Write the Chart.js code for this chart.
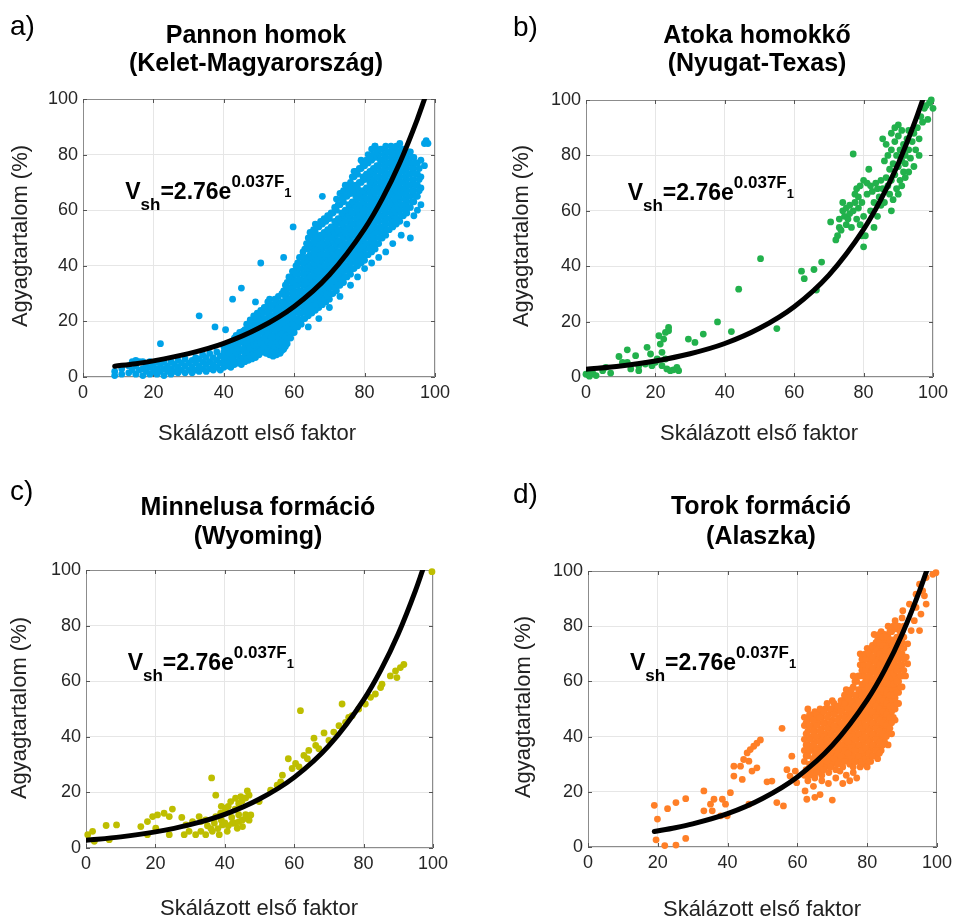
<!DOCTYPE html>
<html>
<head>
<meta charset="utf-8">
<script src="https://cdn.jsdelivr.net/npm/chart.js@4.4.0/dist/chart.umd.min.js"></script>
<style>
  body { margin: 0; background: #fff; width: 957px; height: 920px; position: relative; overflow: hidden; }
  canvas { position: absolute; }
</style>
</head>
<body>
<canvas id="pa" width="478" height="460" style="left:0;top:0"></canvas>
<canvas id="pb" width="479" height="460" style="left:478px;top:0"></canvas>
<canvas id="pc" width="478" height="460" style="left:0;top:460px"></canvas>
<canvas id="pd" width="479" height="460" style="left:478px;top:460px"></canvas>
<script>
const FONT = '"Liberation Sans", Arial, Helvetica, sans-serif'

// tick values shared by both axes of every panel
const tickVals = [0, 20, 40, 60, 80, 100]

// fitted curve
const fitAX = [9, 15, 20, 30, 40, 50, 60, 70, 80, 85, 90, 95, 97]
const fitAY = [3.9, 4.8, 5.8, 8.4, 12.1, 17.6, 25.4, 36.8, 53.3, 64.1, 77.1, 92.8, 99.9]
const fitBX = [0, 10, 20, 30, 40, 50, 60, 70, 80, 85, 90, 95, 97]
const fitBY = [2.8, 4.0, 5.8, 8.4, 12.1, 17.6, 25.4, 36.8, 53.3, 64.1, 77.1, 92.8, 99.9]
const fitDX = [19, 25, 30, 40, 50, 60, 70, 80, 85, 90, 95, 97]
const fitDY = [5.6, 7.0, 8.4, 12.1, 17.6, 25.4, 36.8, 53.3, 64.1, 77.1, 92.8, 99.9]

// a) Pannon homok - scattered points [x, y]
const pannonPts = [
  [22,12],[33,22],[37.5,18],[40.5,17],[42.5,28],[45,32],[49,27],[50.5,41],[53,28],[57,43],
  [59.7,54],[68,65],[72,64],[70,58],[90.4,51],[97.5,85],[98,84],[82.9,83],[93,50],[95,60],
  [76,33],[78,36],[80,39],[82,41],[84,43],[86,45],[88,48],[92,55],[94,58],[96,62],
  [66,55],[73,66],[75,69],[77,74],[79,78],[81,80],[64,18],[67,21],[70,25],[73,29]
]
// a) dense band, one column per x: [x, y1, y2, ...]
const pannonCols = [
  [9,0.5,2],[11,1,3],[13,1.5,4],[14,2.5,5.5],[15,1,4,6],[16,2.5,5.5],[17,0.5,3,5.5],[18,2,4.5],
  [19,1,3.5,5.5],[20,2,4.5],[21,1,3,5.5],[22,2,4.5],[23,0.5,3,5.5],[24,2,4],[25,1,3,5.5],[26,2,4.5],
  [27,1.5,3.5,6],[28,2.5,5],[29,1.5,4,6.5],[30,2.5,5],[31,1.5,3.5,6],[32,2.5,5,7],[33,2,4,6.5],
  [34,3,5.5,8],[35,2,4.5,7],[36,3,5.5,8.5],[37,2.5,4.5,7],[38,3.5,6,9],[39,2.5,5,7.5],
  [40,3.5,6,9,11],[41,4,7,10],[42,3.5,5.5,8.5,12],[43,4.5,7.5,10.5,14],[44,5,8,11,13],
  [45,4.5,6.5,9.5,12.5,15],[46,5.5,8,11,14,17],[47,6,9,12,15,18],[48,6.5,10,13,16,20],
  [49,7,10,13.5,17,21],[50,8,11,14,18,22],[51,9,12,16,19,23],[52,8.5,11,14,17,21,25],
  [53,8,10.5,13,16,20,24],[54,7.5,10,12.5,15,18,22,26],[55,8,10.5,13,16,19,23,27],
  [56,8.5,11,14,17.5,21,25],[57,10,13,16,19.5,23,27,31],[58,12,15,18.5,22,26,30,34],
  [59,14,17,20,24,28,32,36],[60,16,19,23,27,31,35,38],[61,18,21,25,29,33,37,41],
  [62,19,23,27,31,35,39,43],[63,21,25,29,33,37,41,46],[64,22,26,30,34,38,42,46,50],
  [65,23,27,31,35,39,43,47,51],[66,24,28,32,36,40,44,48,52],[67,25,29,33,37,41,45,49,54],
  [68,26,30,34,38,42,46,50,55],[69,27,31,35,39,43,47,51,56],[70,28,32,36,40,44,48,52,57],
  [71,30,34,38,42,46,50,54,59],[72,31,35,39,43,47,51,55,60],[73,33,37,41,45,49,53,57,62],
  [74,34,38,42,46,50,54,58,63,67],[75,36,40,44,48,52,56,60,65],[76,37,41,45,49,53,57,61,66,70],
  [77,39,43,47,51,55,59,63,67,72],[78,40,44,48,52,56,60,64,68,73],[79,41,45,49,53,57,61,65,70,75],
  [80,42,46,50,54,58,62,66,71,76],[81,44,48,52,56,60,64,68,72,77],[82,45,49,53,57,61,65,69,73,78,82],
  [83,46,50,54,58,62,66,70,74,79,83],[84,48,52,56,60,64,68,72,76,80],[85,50,54,58,62,66,70,74,78,82],
  [86,51,55,59,63,67,71,75,79,83],[87,53,57,61,65,69,73,77,81],[88,54,58,62,66,70,74,78,82],
  [89,55,59,63,67,71,75,79,83],[90,56,60,64,68,72,76,80,84],[91,58,62,66,70,74,78,82],
  [92,59,63,67,71,75,79],[93,61,65,69,73,77,81],[94,63,67,71,75,79],[95,65,69,73,77],
  [96,68,72,78],[97,76,84],
  // points in between the columns above
  [40.5,4.5,7.5,10],[41.5,5,8.5,11.5],[42.5,6.5,9.5,13],[43.5,5.5,9,12,15],[44.5,6,9.5,12.5,16],
  [45.5,7,10,13,16.5],[46.5,6.5,9.5,12.5,15.5,19],[47.5,7.5,10.5,13.5,17,20.5],
  [48.5,8,11.5,15,18.5,22],[49.5,8.5,12,15.5,19,23],[50.5,9.5,12.5,16,20,24],
  [51.5,10.5,14,17.5,21,25],[52.5,9.5,12.5,15.5,19,23,27],[53.5,9,12,14.5,18,22,26],
  [54.5,8.5,11,14,17,20,24,28],[55.5,9,11.5,14.5,17.5,21,25,29],[56.5,9.5,12.5,15.5,19,23,27,30],
  [57.5,11,14.5,17.5,21,25,29,33],[58.5,14,17,20.5,24,28,32,36],[59.5,16,19,22,26,30,34,38],
  [60.5,18,21,25,29,33,37,40],[61.5,20,23,27,31,35,39,43],[62.5,21,25,29,33,37,41,45],
  [63.5,23,27,31,35,39,43,48],[64.5,24,28,32,36,40,44,48,52],[65.5,25,29,33,37,41,45,49,53],
  [66.5,26,30,34,38,42,46,50,54],[67.5,27,31,35,39,43,47,51,56],[68.5,28,32,36,40,44,48,52,57],
  [69.5,29,33,37,41,45,49,53,58],[70.5,30,34,38,42,46,50,54,59],[71.5,32,36,40,44,48,52,56,61],
  [72.5,33,37,41,45,49,53,57,62],[73.5,35,39,43,47,51,55,59,64],[74.5,36,40,44,48,52,56,60,65,69],
  [75.5,38,42,46,50,54,58,62,67],[76.5,39,43,47,51,55,59,63,68,72],[77.5,41,45,49,53,57,61,65,69,74],
  [78.5,42,46,50,54,58,62,66,70,75],[79.5,43,47,51,55,59,63,67,72,77],[80.5,44,48,52,56,60,64,68,73,78],
  [81.5,46,50,54,58,62,66,70,74,79],[82.5,47,51,55,59,63,67,71,75,80],[83.5,48,52,56,60,64,68,72,76,81],
  [84.5,50,54,58,62,66,70,74,78,82],[85.5,52,56,60,64,68,72,76,80],[86.5,53,57,61,65,69,73,77,81],
  [87.5,55,59,63,67,71,75,79,83],[88.5,56,60,64,68,72,76,80],[89.5,57,61,65,69,73,77,81],
  [90.5,58,62,66,70,74,78,82],[91.5,60,64,68,72,76,80],[92.5,61,65,69,73,77,81],
  [93.5,63,67,71,75,79],[94.5,65,69,73,77],[95.5,67,71,75]
]

// b) Atoka homokkő
const atokaPts = [
  [0,1],[1,1.7],[1,0.3],[2,1.2],[2.9,0.5],[4.8,2.3],[5.7,3.5],[7.1,1.4],[9.5,7.4],[10.5,5.3],
  [11.9,9.8],[11.9,5.3],[12.9,2.9],[14.3,7.7],[15.2,4.1],[15.2,2.3],[17.1,4.7],[17.6,10.7],
  [18.6,8.3],[19,4.1],[20,5.3],[20.5,6.5],[21,14.9],[21.4,11.9],[21.9,8.9],[21.9,4.1],[22.4,13.7],
  [22.9,16.1],[22.9,6.5],[23.3,2.9],[23.8,17.9],[23.8,16.7],[24.3,2.3],[25.2,2.6],[26.2,3.5],
  [26.7,2.3],[29.5,13.7],[31.4,12.5],[33.8,15.5],[37.9,19.9],[41.9,16.4],[44,31.7],[50.3,42.7],
  [55,17.5],[62.1,38.2],[62.9,35.5],[65.7,38.8],[67.9,41.5],[66.4,31.4],
  [70.5,56],[72,49.5],[72.5,51],[73,54],[73,57],[73.5,53],[74,60],[74,63],[74.5,58],[75,55],
  [75,61],[75.5,57],[76,59],[76,62],[76.5,54],[77,80.5],[77,60],[77.5,66],[77.5,63],[78,57],
  [78,68],[78.5,65],[78.5,61],[79,69],[79,55],[79.5,63],[79.5,51],[80,47],[80,71],[80,58],
  [80.5,51],[81,70],[81,66],[81.5,75],[82,69],[82,60],[82.5,67],[83,54],[83,63],[83.5,70],
  [84,68],[84,58],[84.5,65],[85,71],[85,62],[85.5,86],[85.5,68],[86,78],[86,63],[86.5,72],
  [86.5,84],[87,80],[87,69],[87.5,75],[87.5,66],[88,88],[88,82],[88,71],[88.5,77],[88.5,64],
  [89,90],[89,85],[89,73],[89.5,80],[89.5,68],[90,91],[90,87],[90,76],[90.5,82],[90.5,71],
  [91,89],[91,78],[91,69],[91.5,84],[91.5,74],[92,80],[92,77],[92.5,86],[93,82],[93,74],
  [93.5,79],[94,85],[94.5,76],[94.5,88],[95,82],[95.5,90],[96,86],[96.5,94],[97,92],[97.5,97],
  [98,98],[98.5,93],[99,99],[99.5,100],[100,97],[96,80],[93,89],[92,72],[90,66],[88,60]
]

// c) Minnelusa formáció
const minnelusaPts = [
  [0.5,4.8],[1.9,6],[2.4,2.4],[5.8,8.1],[6.7,3],[8.8,8.3],[15.8,7.7],[17.7,9.5],[17.7,4.8],
  [19.2,11.3],[20.1,7.1],[20.6,11.9],[22.5,12.5],[24,11.3],[24,4.8],[24.9,14],[27.6,11],
  [28.3,4.8],[28.8,8.3],[29.7,6],[30.7,9.5],[31.6,4.8],[32.6,11.3],[33.1,6],[33.1,9.5],
  [34.5,10.1],[34.5,4.8],[35,8],[36,7],[36.2,25.2],[36.4,6],[37,9],[37.4,19],[37.4,11.3],
  [38,7],[38.4,4.8],[38.8,12.5],[39,10],[39,15],[39.3,8.3],[40,9],[40,13],[40.3,14.3],
  [40.7,6],[41,8],[41,15],[41.7,16.7],[42,11],[42.2,8.9],[43,9],[43,14],[43.1,17.9],[43.6,7.1],
  [44,12],[44,16],[44.1,9.5],[44.6,18.5],[45,10],[45,17],[45.1,7.7],[46,10.7],[46,12],[46,18],
  [46.5,20.5],[47,10],[47,19],[47.5,11.9],[49.9,16.7],[53.2,20.8],[55.1,22.6],[56.1,23.8],
  [56.6,26.2],[58.3,32.1],[59.4,28.6],[60.4,30.4],[61.4,29.2],[61.8,49.4],[62.8,33.3],
  [63.8,32.1],[64.2,35.1],[65.7,39.5],[66.2,36.9],[67.1,35.7],[68.6,41.4],[70,38.7],
  [71.4,41.7],[72.9,44],[73.8,51.8],[74.8,45.2],[75.7,47],[76.7,47.6],[78.6,50],[80.5,51.8],
  [82,54.2],[83.4,55.4],[84.9,57.7],[85.3,58.9],[87.7,61.9],[89.2,63.7],[89.6,61.3],
  [90.6,64.9],[91.6,66],[99.7,99.4]
]

// d) Torok formáció - scattered points
const torokPts = [
  [19,15.1],[19.9,10.1],[19.5,2.6],[22,0.5],[25.2,0.7],[28,3.1],[22.8,13.9],[25.2,16.1],
  [28,17.5],[33.2,20.3],[33.2,13.1],[35.1,15.5],[35.6,13.1],[36.1,17.3],[38,11.3],[38.5,17.3],
  [39.4,15.5],[39.9,11.3],[40.8,19.7],[41.8,25.7],[41.8,29.3],[43.7,29.3],[44.2,24.5],
  [44.6,31.7],[45.6,34.1],[46.1,31.1],[46.1,15.5],[46.5,35.3],[47,27.5],[47.5,36.5],
  [48.4,37.6],[48.4,28.7],[49.4,38.8],[51.3,23.6],[52.7,23.9],[54.1,16.1],[55.6,43],[56,14.9],
  [57,28],[57.9,25.7],[58.4,32.9],[59.4,27.5],[59.8,23.3],[62.2,20.3],[62.7,17.3],
  [64.6,22],[65,18],[66.5,19],[67,24],[68.9,23],[70,17],[71,25],[72.2,27.5],[73,23],
  [74,26],[75,24],[76,27],[77,25],
  [63,50],[65,49],[70,53],[74,57],[76,62],[78,66],[80,72],[82,77],[84,78],[86,80],[88,82],
  [86,37],[87,41],[88,46],[89,52],[90,58],[91,62],
  [89.3,78.4],[90.2,85.6],[91.2,68.8],[91.6,73.6],[91.6,66.4],[92.1,88],[92.6,78.4],[93.5,82],
  [94,91.6],[94,86.8],[95,95.2],[95,78.4],[95.4,84.4],[95.9,92.8],[96.4,91],[96.9,97.6],
  [96.9,88],[98.8,98.8],[99.7,99.4]
]
// d) dense cloud, one column per x: [x, y1, y2, ...]
const torokCols = [
  [62,26,31,35,39,44,47],[63,24,28,33,37,42,46],[64,27,30,35,40,44,47],[65,25,29,33,38,42,46],
  [66,28,32,36,40,45,48],[67,26,30,34,38,43,47,49],[68,29,33,37,41,45,50],[69,27,31,35,39,43,48],
  [70,30,34,38,42,46,50],[71,28,32,36,40,44,49],[72,31,35,39,43,47,51],[73,29,33,37,41,45,50,53],
  [74,32,36,40,44,48,52],[75,30,34,38,42,46,50,55],[76,29,33,37,41,45,49,53,58],
  [77,31,35,39,43,47,51,55,60],[78,29,33,37,41,45,49,53,57,62,70],
  [79,30,34,38,42,46,50,54,58,62,66,68],[80,29,32,36,40,44,48,52,56,60,64,68],
  [81,31,35,39,43,47,51,55,59,63,67,71],[82,33,37,41,45,49,53,57,61,65,69,72],
  [83,32,36,40,44,48,52,56,60,64,68,72,75],[84,35,39,43,47,51,55,59,63,67,71,74],
  [85,38,42,46,50,54,58,62,66,70,74,77],[86,41,45,49,53,57,61,65,69,73,76],
  [87,45,49,53,57,61,65,69,73,78],[88,50,54,58,62,66,70,74,79],[89,56,60,64,68,72,76,80],
  [90,62,66,70,74,78,83],
  // points in between the columns above
  [62.5,28,33,37,41,45],[63.5,26,30,35,39,44,48],[64.5,29,32,37,42,46],[65.5,27,31,35,40,44,48],
  [66.5,30,34,38,42,47,50],[67.5,28,32,36,40,45,49],[68.5,31,35,39,43,47,52],[69.5,29,33,37,41,45,50],
  [70.5,32,36,40,44,48,52],[71.5,30,34,38,42,46,51],[72.5,33,37,41,45,49,53],[73.5,31,35,39,43,47,52,55],
  [74.5,34,38,42,46,50,54],[75.5,32,36,40,44,48,52,57],[76.5,31,35,39,43,47,51,55,60],
  [77.5,33,37,41,45,49,53,57,62],[78.5,31,35,39,43,47,51,55,59,64,68],
  [79.5,32,36,40,44,48,52,56,60,64,68,70],[80.5,31,34,38,42,46,50,54,58,62,66,70],
  [81.5,33,37,41,45,49,53,57,61,65,69,73],[82.5,35,39,43,47,51,55,59,63,67,71,74],
  [83.5,34,38,42,46,50,54,58,62,66,70,74,77],[84.5,37,41,45,49,53,57,61,65,69,73,76],
  [85.5,40,44,48,52,56,60,64,68,72,76],[86.5,43,47,51,55,59,63,67,71,75,78],
  [87.5,47,51,55,59,63,67,71,75,80],[88.5,52,56,60,64,68,72,76,80],[89.5,58,62,66,70,74,78],
  [90.5,64,68,72,76,80]
]

function toPoints(pairs, cols) {
  const pts = pairs.map(([x, y]) => ({ x, y }))
  for (const [x, ...ys] of cols) for (const y of ys) pts.push({ x, y })
  return pts
}

function drawEquation(ctx, x, y) {
  const parts = [['V', 23, 0], ['sh', 17, 11], ['=2.76e', 23, 0], ['0.037F', 17, -12], ['1', 13, -2]]
  ctx.fillStyle = '#000'
  ctx.textAlign = 'left'
  ctx.textBaseline = 'alphabetic'
  for (const [t, size, dy] of parts) {
    ctx.font = `bold ${size}px ${FONT}`
    ctx.fillText(t, x, y + dy)
    x += ctx.measureText(t).width
  }
}

const panelDecor = {
  id: 'panelDecor',
  beforeDatasetsDraw(chart) {
    const { ctx, chartArea: a, scales } = chart
    ctx.save()
    ctx.strokeStyle = '#8c8c8c'
    ctx.lineWidth = 1
    ctx.strokeRect(a.left + 0.5, a.top + 0.5, a.width - 1, a.height - 1)
    ctx.strokeStyle = '#555'
    ctx.beginPath()
    for (const v of tickVals) {
      const px = Math.round(scales.x.getPixelForValue(v)) + 0.5
      const py = Math.round(scales.y.getPixelForValue(v)) + 0.5
      ctx.moveTo(px, a.bottom); ctx.lineTo(px, a.bottom - 4)
      ctx.moveTo(px, a.top); ctx.lineTo(px, a.top + 4)
      ctx.moveTo(a.left, py); ctx.lineTo(a.left + 4, py)
      ctx.moveTo(a.right, py); ctx.lineTo(a.right - 4, py)
    }
    ctx.stroke()
    ctx.restore()
  },
  afterDraw(chart, args, o) {
    const { ctx, scales } = chart
    ctx.save()
    ctx.fillStyle = '#000'
    ctx.textBaseline = 'alphabetic'
    // panel letter
    ctx.textAlign = 'left'
    ctx.font = `28px ${FONT}`
    ctx.fillText(o.letter, o.letterAt[0], o.letterAt[1])
    // two-line title
    ctx.textAlign = 'center'
    ctx.font = `bold 25px ${FONT}`
    ctx.fillText(o.title[0], o.titleX, o.titleY[0])
    ctx.fillText(o.title[1], o.titleX, o.titleY[1])
    // axis titles
    ctx.fillStyle = '#222'
    ctx.font = `22px ${FONT}`
    ctx.fillText('Skálázott első faktor', o.xlab[0], o.xlab[1])
    ctx.translate(o.ylab[0], o.ylab[1])
    ctx.rotate(-Math.PI / 2)
    ctx.fillText('Agyagtartalom (%)', 0, 0)
    ctx.setTransform(1, 0, 0, 1, 0, 0)
    // fit equation
    drawEquation(ctx, scales.x.getPixelForValue(12), scales.y.getPixelForValue(64))
    ctx.restore()
  }
}

const panels = [
  { id: 'pa', w: 478, letter: 'a)', title: ['Pannon homok', '(Kelet-Magyarország)'], color: '#00a2e8',
    pts: pannonPts, cols: pannonCols, fitX: fitAX, fitY: fitAY, area: [83, 435, 99, 377],
    letterAt: [10, 35], titleX: 256, titleY: [43, 71], xlab: [257, 440], ylab: [27, 236] },
  { id: 'pb', w: 479, letter: 'b)', title: ['Atoka homokkő', '(Nyugat-Texas)'], color: '#22b14c',
    pts: atokaPts, cols: [], fitX: fitBX, fitY: fitBY, area: [108, 455, 100, 377],
    letterAt: [35, 36], titleX: 279, titleY: [43, 71], xlab: [281, 440], ylab: [50, 236] },
  { id: 'pc', w: 478, letter: 'c)', title: ['Minnelusa formáció', '(Wyoming)'], color: '#bebe00',
    pts: minnelusaPts, cols: [], fitX: fitBX, fitY: fitBY, area: [86, 433, 110, 388],
    letterAt: [10, 40], titleX: 258, titleY: [55, 84], xlab: [259, 455], ylab: [26, 248] },
  { id: 'pd', w: 479, letter: 'd)', title: ['Torok formáció', '(Alaszka)'], color: '#ff7f27',
    pts: torokPts, cols: torokCols, fitX: fitDX, fitY: fitDY, area: [110, 461, 111, 387],
    letterAt: [35, 43], titleX: 283, titleY: [54, 84], xlab: [284, 456], ylab: [52, 247] }
]

for (const p of panels) {
  const [L, R, T, B] = p.area
  const axis = (fit) => ({
    type: 'linear', min: 0, max: 100,
    afterBuildTicks: s => { s.ticks = tickVals.map(v => ({ value: v })) },
    afterFit: fit,
    grid: { color: '#e6e6e6', drawTicks: false },
    border: { display: false },
    ticks: { font: { size: 18, family: FONT }, color: '#262626', padding: 5, maxRotation: 0 }
  })
  new Chart(document.getElementById(p.id), {
    type: 'scatter',
    data: {
      datasets: [
        {
          data: p.fitX.map((x, i) => ({ x, y: p.fitY[i] })),
          showLine: true, borderColor: '#000', borderWidth: 5, pointRadius: 0,
          cubicInterpolationMode: 'monotone', borderCapStyle: 'round', clip: 0
        },
        {
          data: toPoints(p.pts, p.cols),
          backgroundColor: p.color, borderWidth: 0, pointRadius: 3.4, clip: false
        }
      ]
    },
    options: {
      responsive: false,
      animation: false,
      layout: { padding: { left: L - 40, right: p.w - R, top: T, bottom: 460 - B - 30 } },
      plugins: {
        legend: { display: false },
        tooltip: { enabled: false },
        panelDecor: p
      },
      scales: {
        x: axis(s => { s.height = 30 }),
        y: axis(s => { s.width = 40 })
      }
    },
    plugins: [panelDecor]
  })
}
</script>
</body>
</html>
